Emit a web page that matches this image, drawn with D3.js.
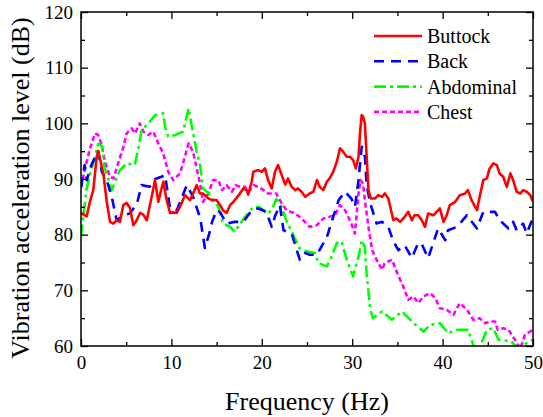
<!DOCTYPE html>
<html>
<head>
<meta charset="utf-8">
<script src="https://cdn.jsdelivr.net/npm/d3@7"></script>
<style>
    body { margin: 0; background: #fff; }
    text { font-family: "Liberation Serif", "DejaVu Serif", serif; fill: #000; }
</style>
</head>
<body>
<svg id="chart" width="543" height="417"></svg>
<script>
// data, [frequency Hz, level dB]
var buttock = [
    [0, 83.9], [0.63, 83.3], [1.0, 86], [1.36, 88], [1.74, 94], [1.91, 95], [2.47, 91], [2.84, 86],
    [3.21, 82.3], [3.57, 82], [3.95, 82.6], [4.31, 82.3], [4.68, 85.3], [5.05, 85.7], [5.42, 84.8],
    [5.79, 81.7], [6.16, 82.6], [6.53, 83.9], [6.89, 83.6], [7.27, 82.6], [7.82, 86.8], [8.19, 89.8],
    [8.55, 85.9], [9.1, 89.5], [9.48, 86.2], [9.85, 83.9], [10.2, 84], [10.6, 83.9], [10.95, 85],
    [11.5, 87.1], [12.06, 86.2], [12.4, 87.4], [12.8, 88.9], [13.16, 87.4], [13.5, 87.4], [14.1, 86.5],
    [14.5, 86.2], [15.0, 86.2], [15.4, 85.3], [15.7, 84.4], [16.1, 83.9], [16.5, 85.3], [16.85, 85.9],
    [17.5, 87.2], [17.95, 88.3], [18.33, 88], [18.5, 87.2], [18.88, 89.5], [19.06, 91.3], [19.6, 91.6],
    [20.0, 91.3], [20.35, 91.9], [20.7, 89.8], [21.1, 88.3], [21.46, 91.3], [21.8, 92.5], [22.2, 90.7],
    [22.6, 89], [22.9, 90.1], [23.3, 88.6], [23.7, 88], [24.0, 88.3], [24.4, 87.7], [24.8, 86.8],
    [25.3, 87.4], [25.7, 87.7], [26.1, 89.8], [26.4, 88.6], [26.8, 88], [27.2, 89.5], [27.5, 90.1],
    [27.9, 91.3], [28.3, 93.1], [28.65, 95.5], [29.0, 94.9], [29.4, 94], [29.76, 94], [30.1, 93.4],
    [30.4, 91.9], [30.7, 94], [30.86, 98.2], [31.05, 101.5], [31.2, 101.2], [31.4, 100], [31.6, 94],
    [31.8, 88], [32.05, 86.5], [32.5, 86.5], [32.9, 87.1], [33.3, 86.8], [33.6, 87.4], [34.0, 86.5],
    [34.55, 82.6], [34.9, 82.9], [35.3, 82.3], [35.8, 83.2], [36.2, 84.1], [36.6, 82.6], [36.9, 83.5],
    [37.3, 83.5], [37.7, 82.6], [38.05, 81.4], [38.4, 83.8], [39.0, 83.5], [39.35, 84.1], [39.7, 84.7],
    [40.1, 82.3], [40.45, 83.5], [40.8, 85.3], [41.4, 85.9], [41.9, 87.1], [42.5, 87.4], [42.8, 88],
    [43.2, 86.2], [43.8, 84.4], [44.1, 86.8], [44.5, 89.8], [44.9, 90.1], [45.2, 91.9], [45.6, 92.8],
    [46.0, 92.5], [46.3, 91], [46.7, 90.4], [47.1, 88.6], [47.5, 91], [47.8, 89.8], [48.2, 87.7],
    [48.6, 87.4], [48.9, 88], [49.3, 87.7], [49.7, 87.1], [50, 85.9]
];

var back = [
    [0, 88.5], [0.4, 92.5], [0.65, 89.8], [1.0, 91.9], [1.55, 94], [1.9, 95], [2.3, 91.3], [2.85, 89.8],
    [3.4, 86.8], [3.95, 82.6], [4.7, 83.5], [5.4, 83.8], [6.2, 85.6], [6.7, 88.9], [7.6, 88.6],
    [8.2, 90], [8.9, 90.4], [9.3, 90.7], [9.85, 84.7], [10.6, 84.4], [11.7, 88.9], [12.4, 86.8],
    [13.2, 82.9], [13.7, 77.6], [14.3, 80.8], [14.5, 82.3], [15.0, 84.4], [15.4, 84], [16.1, 82],
    [17.0, 82.3], [17.95, 82.3], [18.9, 84.4], [19.6, 84.7], [20.5, 84.1], [21.1, 81.4], [21.5, 83.5],
    [22.0, 85.3], [22.4, 80.8], [23.3, 80.2], [23.7, 78.1], [24.2, 75.5], [24.8, 76.7], [25.3, 76.4],
    [26.1, 76.4], [27.2, 79.6], [27.9, 83.2], [28.5, 86.2], [29.2, 87.7], [29.9, 86.5], [30.3, 85],
    [30.7, 89.8], [31.05, 95.8], [31.4, 94], [31.6, 88.9], [32.0, 85.6], [32.7, 82], [33.3, 82.3],
    [34.0, 81.4], [34.5, 79], [35.1, 77.2], [35.8, 78.1], [36.6, 75.8], [37.3, 78.5], [37.7, 78.3],
    [38.4, 75.8], [39.5, 81.1], [40.3, 79], [40.6, 80.8], [41.6, 81.4], [42.7, 83.5], [43.8, 81.1],
    [44.5, 84.1], [45.8, 84.1], [46.3, 82.6], [47.3, 81.1], [47.8, 82.3], [48.2, 80.8], [48.9, 82],
    [49.3, 80.2], [50, 83]
];

var abdominal = [
    [0, 79.7], [0.25, 83.2], [0.6, 88], [1.0, 91], [1.55, 94], [1.9, 96.3], [2.3, 96], [2.6, 92.2],
    [3.4, 88], [4.3, 91.6], [5.05, 92.8], [5.95, 92.5], [6.35, 95.5], [6.7, 98.8], [7.45, 100],
    [8.2, 101.5], [8.55, 101.5], [9.1, 101.8], [9.3, 99.4], [9.65, 97.6], [10.4, 97.9], [11.3, 98.5],
    [11.9, 102.7], [12.2, 100], [12.8, 94.9], [13.2, 92.2], [13.5, 88.3], [14.1, 87.5], [14.6, 86.2],
    [15.2, 85], [15.7, 82], [16.5, 81.4], [17.0, 80.5], [17.6, 82], [18.3, 83.5], [19.1, 85],
    [19.8, 84.9], [20.7, 83.7], [21.3, 85.2], [21.6, 86.4], [22.2, 85], [22.7, 82.6], [23.7, 79.2],
    [24.2, 77.5], [24.95, 77], [25.9, 76.7], [26.25, 74.9], [27.2, 74.3], [27.7, 76], [28.3, 78.5],
    [28.8, 78.8], [29.4, 75.5], [30.1, 72.5], [30.7, 76], [31.05, 79], [31.4, 77.8], [31.6, 73],
    [32.0, 66.5], [32.3, 65], [33.3, 66.2], [34.4, 64.7], [35.5, 66.2], [36.8, 64.1], [37.9, 62.6],
    [38.6, 63.8], [39.7, 64.1], [40.6, 62.3], [41.6, 62.9], [42.8, 62.9], [43.4, 60.2], [43.9, 59],
    [44.9, 62.9], [45.6, 63.2], [46.2, 61.1], [46.9, 61], [47.6, 60.8], [48.2, 59.8], [49.3, 60.5],
    [50, 61.1]
];

var chest = [
    [0, 88.5], [0.45, 91.9], [1.0, 95.5], [1.55, 98.2], [1.9, 97.9], [2.3, 96.1], [2.65, 93.1],
    [3.2, 90.4], [3.6, 90.1], [4.1, 92.8], [4.7, 95.8], [5.05, 98.2], [5.6, 99.1], [5.98, 98.2],
    [6.5, 100], [6.9, 98.5], [7.45, 97.9], [8.0, 98.5], [8.55, 96.4], [9.1, 94.6], [9.65, 91.3],
    [10.2, 89.8], [10.95, 91], [11.5, 94], [11.9, 96.4], [12.4, 94.9], [12.8, 91.9], [13.2, 88.9],
    [13.5, 85.9], [14.1, 87.4], [14.6, 89.8], [15.2, 89.8], [15.6, 88], [16.1, 88.9], [16.7, 87.7],
    [17.1, 88.9], [17.6, 88.6], [18.15, 88.6], [18.5, 87.7], [19.1, 88.9], [19.6, 88.6], [20.2, 88],
    [20.7, 87.4], [21.6, 87.4], [22.2, 85.6], [22.75, 84.4], [23.7, 83.8], [24.4, 82.9], [25.3, 81.4],
    [26.1, 81.7], [26.8, 82.9], [27.5, 83.2], [28.1, 83.5], [28.65, 85.3], [29.2, 84.4], [29.9, 82],
    [30.3, 80.2], [30.7, 87.4], [30.9, 89.8], [31.2, 89.2], [31.4, 86.2], [31.8, 81.4], [32.2, 77.2],
    [32.7, 75.5], [33.3, 73.7], [33.6, 74.9], [34.4, 75.5], [34.9, 73.4], [35.65, 70.7], [36.2, 68.3],
    [36.8, 68.9], [37.3, 67.7], [37.9, 68.9], [38.6, 69.5], [39.2, 68.6], [39.7, 66.8], [40.45, 66.5],
    [41.2, 65.6], [41.9, 67.7], [42.7, 66.5], [43.4, 64.7], [44.1, 65], [44.7, 64.1], [45.3, 64.4],
    [45.8, 64.4], [46.1, 62.9], [46.7, 63.2], [47.3, 62.9], [48.0, 61.1], [48.6, 59.5], [49.1, 62],
    [50, 62.9]
];

var seriesNames = [ "Buttock", "Back", "Abdominal", "Chest" ];
var xTicks = [ 0, 10, 20, 30, 40, 50 ];
var yTicks = [ 60, 70, 80, 90, 100, 110, 120 ];

// styles per series
var styles = [
    { color: "#ff0000", dash: null, width: 2.6 },
    { color: "#0000ff", dash: "10,7", width: 2.6 },
    { color: "#00ff00", dash: "12,4,3,4", width: 2.6 },
    { color: "#ff00ff", dash: "5,3", width: 2.6 }
];

var serif = "'Liberation Serif','DejaVu Serif',serif";

var margin = { left: 81, top: 12, right: 10, bottom: 71 };
var svgWidth = 543, svgHeight = 417;
var w = svgWidth - margin.left - margin.right;
var h = svgHeight - margin.top - margin.bottom;

var svg = d3.select( "#chart" );
var g = svg.append( "g" ).attr( "transform", "translate(" + margin.left + "," + margin.top + ")" );

var x = d3.scaleLinear().domain( [ 0, 50 ] ).range( [ 0, w ] );
var y = d3.scaleLinear().domain( [ 60, 120 ] ).range( [ h, 0 ] );

svg.append( "defs" ).append( "clipPath" ).attr( "id", "plotClip" )
    .append( "rect" ).attr( "width", w ).attr( "height", h );

var line = d3.line()
    .x( function ( d ) { return x( d[ 0 ] ); } )
    .y( function ( d ) { return y( d[ 1 ] ); } );

var allSeries = [ buttock, back, abdominal, chest ];

// draw chest first so buttock ends on top
var order = [ 3, 2, 1, 0 ];
order.forEach( function ( i ) {
    g.append( "path" )
        .datum( allSeries[ i ] )
        .attr( "clip-path", "url(#plotClip)" )
        .attr( "d", line )
        .attr( "fill", "none" )
        .attr( "stroke", styles[ i ].color )
        .attr( "stroke-width", styles[ i ].width )
        .attr( "stroke-dasharray", styles[ i ].dash )
        .attr( "stroke-linejoin", "round" );
} );

// axes, ticks inward
function styleAxis( sel ) {
    sel.attr( "font-family", serif );
    sel.select( ".domain" ).remove();
    sel.selectAll( "line" ).attr( "stroke", "#000" ).attr( "stroke-width", 1.3 );
    sel.selectAll( "text" ).style( "font-size", "19px" ).style( "font-family", serif );
}

var minorX = d3.range( 5, 50, 10 );
var minorY = d3.range( 65, 120, 10 );

g.append( "g" ).attr( "transform", "translate(0," + h + ")" )
    .call( d3.axisBottom( x ).tickValues( xTicks ).tickSize( -7 ).tickPadding( 10 ).tickFormat( d3.format( "d" ) ) )
    .call( styleAxis );
g.append( "g" ).attr( "transform", "translate(0," + h + ")" )
    .call( d3.axisBottom( x ).tickValues( minorX ).tickSize( -4 ).tickFormat( "" ) )
    .call( styleAxis );
g.append( "g" )
    .call( d3.axisTop( x ).tickValues( xTicks ).tickSize( -7 ).tickFormat( "" ) )
    .call( styleAxis );
g.append( "g" )
    .call( d3.axisTop( x ).tickValues( minorX ).tickSize( -4 ).tickFormat( "" ) )
    .call( styleAxis );

g.append( "g" )
    .call( d3.axisLeft( y ).tickValues( yTicks ).tickSize( -7 ).tickPadding( 8 ) )
    .call( styleAxis );
g.append( "g" )
    .call( d3.axisLeft( y ).tickValues( minorY ).tickSize( -4 ).tickFormat( "" ) )
    .call( styleAxis );
g.append( "g" ).attr( "transform", "translate(" + w + ",0)" )
    .call( d3.axisRight( y ).tickValues( yTicks ).tickSize( -7 ).tickFormat( "" ) )
    .call( styleAxis );
g.append( "g" ).attr( "transform", "translate(" + w + ",0)" )
    .call( d3.axisRight( y ).tickValues( minorY ).tickSize( -4 ).tickFormat( "" ) )
    .call( styleAxis );

// frame
g.append( "rect" )
    .attr( "width", w ).attr( "height", h )
    .attr( "fill", "none" ).attr( "stroke", "#000" ).attr( "stroke-width", 1.5 );

// axis titles
g.append( "text" )
    .attr( "x", w / 2 ).attr( "y", h + 64 )
    .attr( "text-anchor", "middle" )
    .style( "font-family", serif )
    .style( "font-size", "26px" )
    .text( "Frequency (Hz)" );

svg.append( "text" )
    .attr( "transform", "translate(29," + ( margin.top + h / 2 + 9 ) + ") rotate(-90)" )
    .attr( "text-anchor", "middle" )
    .style( "font-family", serif )
    .style( "font-size", "26px" )
    .text( "Vibration acceleration level (dB)" );

// legend
var legend = svg.append( "g" ).attr( "transform", "translate(374,36)" );
seriesNames.forEach( function ( name, i ) {
    var row = legend.append( "g" ).attr( "transform", "translate(0," + ( i * 25.3 ) + ")" );
    row.append( "line" )
        .attr( "x1", 0 ).attr( "x2", 48 )
        .attr( "stroke", styles[ i ].color )
        .attr( "stroke-width", styles[ i ].width )
        .attr( "stroke-dasharray", styles[ i ].dash );
    row.append( "text" )
        .attr( "x", 53 ).attr( "y", 7 )
        .style( "font-family", serif )
        .style( "font-size", "20px" )
        .text( name );
} );
</script>
</body>
</html>
